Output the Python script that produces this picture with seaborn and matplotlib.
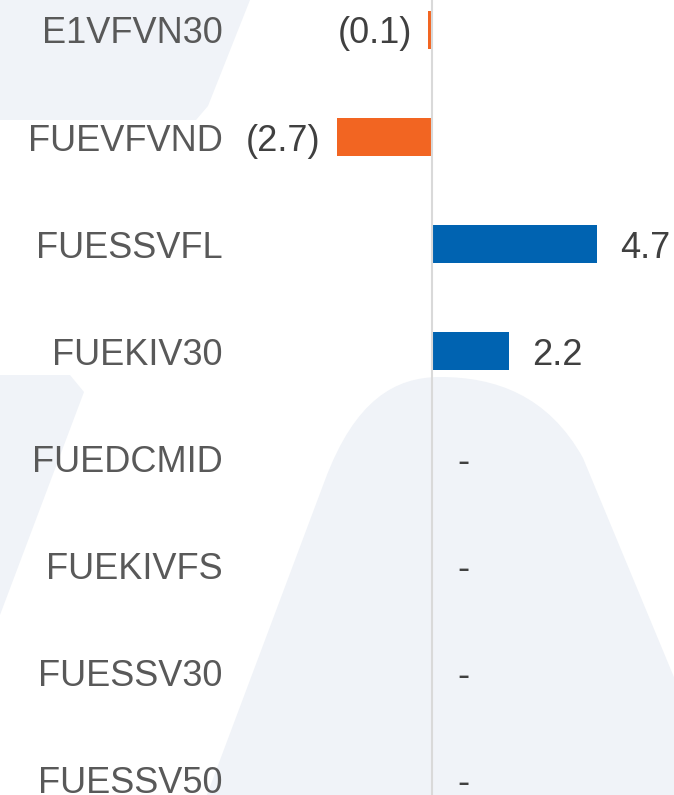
import matplotlib
matplotlib.use("Agg")
import matplotlib.pyplot as plt
from matplotlib.path import Path
from matplotlib.patches import PathPatch, Polygon
import seaborn as sns
import pandas as pd

# data
funds = ["E1VFVN30", "FUEVFVND", "FUESSVFL", "FUEKIV30",
         "FUEDCMID", "FUEKIVFS", "FUESSV30", "FUESSV50"]
flows = [-0.1, -2.7, 4.7, 2.2, 0.0, 0.0, 0.0, 0.0]

ORANGE = "#F26522"
BLUE = "#0063B1"
WATERMARK = "#F0F3F8"

sns.set_theme(style="white")
plt.rcParams["font.family"] = ["Liberation Sans", "DejaVu Sans"]

df = pd.DataFrame({"fund": funds, "flow": flows})
bar_colors = [ORANGE if v < 0 else BLUE for v in flows]

fig = plt.figure(figsize=(6.74, 7.95), dpi=100)
fig.patch.set_facecolor("white")

# faint background shapes (pixel coords, y down)
bg = fig.add_axes([0, 0, 1, 1])
bg.set_xlim(0, 674)
bg.set_ylim(795, 0)
bg.axis("off")
bg.add_patch(Polygon([(0, 0), (250, 0), (208, 106), (196, 120), (0, 120)],
                     closed=True, color=WATERMARK, lw=0))
bg.add_patch(Polygon([(0, 375), (70, 375), (84, 392), (0, 615)],
                     closed=True, color=WATERMARK, lw=0))
arch = Path([(205, 800), (325, 480),
             (355, 400), (395, 377), (440, 377),
             (495, 377), (548, 395), (583, 458),
             (725, 800), (205, 800)],
            [Path.MOVETO, Path.LINETO,
             Path.CURVE4, Path.CURVE4, Path.CURVE4,
             Path.CURVE4, Path.CURVE4, Path.CURVE4,
             Path.LINETO, Path.CLOSEPOLY])
bg.add_patch(PathPatch(arch, color=WATERMARK, lw=0))

ax = fig.add_axes([243 / 674, 0, 1 - 243 / 674, 1])
ax.patch.set_alpha(0)
sns.barplot(data=df, x="flow", y="fund", hue="fund", palette=bar_colors,
            orient="h", width=0.355, dodge=False, legend=False,
            saturation=1, linewidth=0, ax=ax)

px = 35.2  # pixels per unit
ax.set_xlim((243 - 432) / px, (674 - 432) / px)
ax.set_ylim(7.143, -0.28)
ax.axvline(0, color="#D9D9D9", lw=1.5, zorder=3)

for s in ax.spines.values():
    s.set_visible(False)
ax.set_xticks([])
ax.set_xlabel("")
ax.set_ylabel("")
ax.tick_params(axis="y", length=0, pad=14.5, labelsize=26, labelcolor="#595959")

for i, v in enumerate(flows):
    if v < 0:
        ax.annotate(f"({abs(v):.1f})", (v, i), xytext=(-12, 0),
                    textcoords="offset points", ha="right", va="center_baseline",
                    fontsize=26, color="#404040")
    elif v > 0:
        ax.annotate(f"{v:.1f}", (v, i), xytext=(16, 0),
                    textcoords="offset points", ha="left", va="center_baseline",
                    fontsize=26, color="#404040")
    else:
        ax.annotate("-", (0, i), xytext=(18, 0),
                    textcoords="offset points", ha="left", va="center_baseline",
                    fontsize=26, color="#404040")

fig.savefig("out.png", dpi=100)
